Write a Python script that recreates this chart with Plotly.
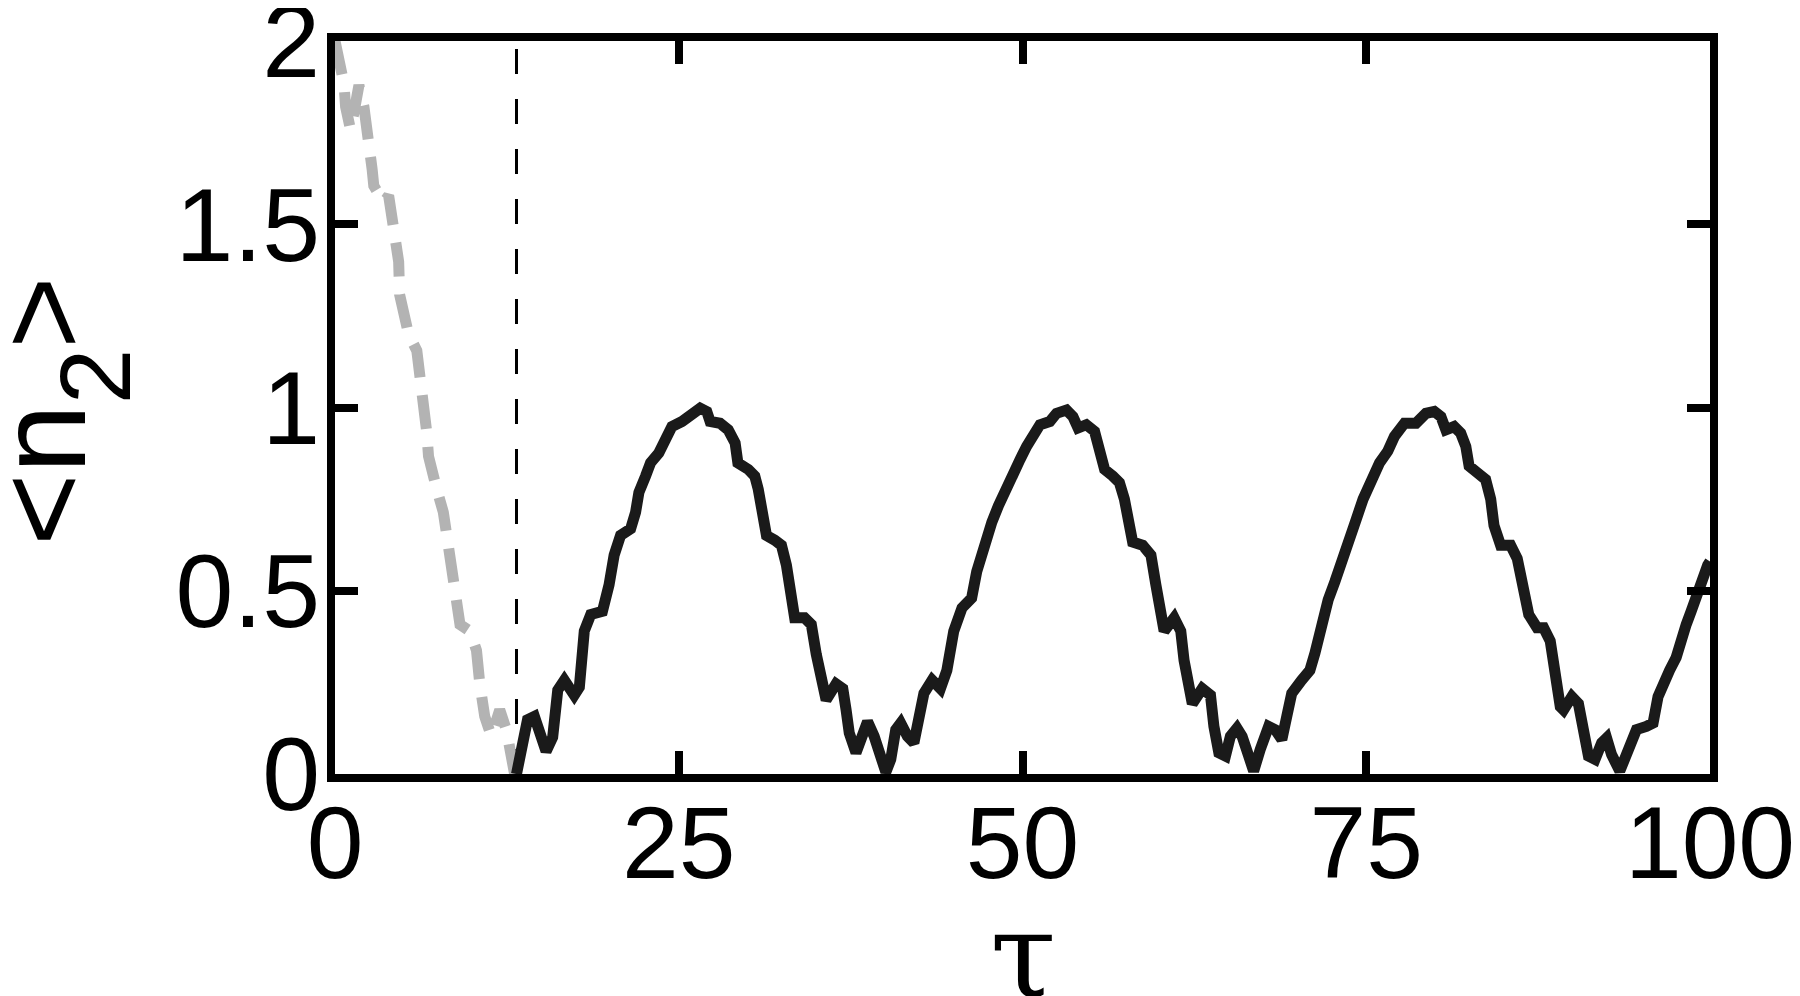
import plotly.graph_objects as go

tau_black = [13.2, 14.0, 14.5, 15.35, 15.83, 16.2, 16.68, 17.4, 17.77, 18.13, 18.6, 19.45, 19.93,
             20.3, 20.77, 21.5, 21.86, 22.1, 22.59, 22.95, 23.55, 24.03, 24.5, 25.24, 25.72, 26.2,
             26.56, 27.04, 27.28, 28.0, 28.6, 29.1, 29.3, 30.06, 30.53, 30.78, 31.14, 31.38, 31.98,
             32.47, 32.83, 33.19, 33.43, 34.15, 34.64, 35.0, 35.36, 35.72, 36.44, 36.93, 37.17,
             37.4, 37.89, 38.37, 38.73, 39.21, 39.7, 40.06, 40.42, 40.78, 41.14, 41.63, 42.1,
             42.83, 43.43, 44.03, 44.5, 45.0, 45.6, 46.3, 46.67, 47.17, 47.77, 48.25, 48.85,
             49.33, 49.82, 50.3, 50.78, 51.27, 51.99, 52.47, 53.2, 53.67, 54.04, 54.64, 55.24,
             55.6, 55.97, 56.57, 57.05, 57.41, 57.77, 58.01, 58.74, 59.34, 59.7, 59.94, 60.3,
             61.03, 61.51, 61.75, 62.11, 62.35, 63.07, 63.67, 63.92, 64.28, 64.76, 65.12, 65.6,
             65.97, 66.45, 66.81, 67.29, 67.9, 68.38, 68.86, 69.22, 69.58, 70.3, 70.9, 71.27,
             71.75, 72.23, 72.72, 73.2, 73.68, 74.28, 74.77, 75.37, 75.97, 76.57, 77.05, 77.78,
             78.62, 79.34, 79.95, 80.43, 80.79, 81.39, 81.87, 82.24, 82.48, 83.08, 83.68, 84.05,
             84.29, 84.77, 85.5, 85.98, 86.22, 86.46, 86.82, 87.42, 87.9, 88.38, 88.74, 89.11,
             89.35, 89.95, 90.43, 90.8, 91.16, 91.64, 92.12, 92.48, 92.84, 93.44, 94.05, 94.65,
             95.37, 95.86, 96.22, 96.58, 97.06, 97.54, 97.9, 98.27, 98.63, 98.99, 99.35, 99.83, 100.0]
n2_black = [0.0, 0.148, 0.157, 0.062, 0.10, 0.229, 0.256, 0.215, 0.237, 0.39, 0.435, 0.444, 0.516,
            0.597, 0.651, 0.669, 0.714, 0.768, 0.813, 0.849, 0.876, 0.921, 0.948, 0.962, 0.975, 0.984,
            0.998, 0.989, 0.962, 0.957, 0.939, 0.903, 0.849, 0.831, 0.813, 0.777, 0.714, 0.651, 0.638,
            0.624, 0.570, 0.498, 0.426, 0.426, 0.408, 0.327, 0.265, 0.202, 0.246, 0.233, 0.175,
            0.112, 0.058, 0.121, 0.143, 0.103, 0.040, 0.005, 0.040, 0.121, 0.139, 0.103, 0.085,
            0.22, 0.256, 0.233, 0.283, 0.39, 0.453, 0.48, 0.552, 0.624, 0.687, 0.732, 0.786,
            0.822, 0.858, 0.894, 0.930, 0.953, 0.962, 0.984, 0.993, 0.975, 0.944, 0.953, 0.935,
            0.885, 0.831, 0.813, 0.795, 0.75, 0.696, 0.633, 0.624, 0.597, 0.516, 0.444, 0.39,
            0.426, 0.39, 0.31, 0.246, 0.192, 0.233, 0.215, 0.13, 0.058, 0.049, 0.103, 0.125,
            0.103, 0.049, 0.008, 0.067, 0.13, 0.121, 0.094, 0.157, 0.22, 0.256, 0.283, 0.33,
            0.415, 0.475, 0.525, 0.585, 0.642, 0.696, 0.75, 0.806, 0.849, 0.881, 0.921, 0.957,
            0.957, 0.984, 0.989, 0.975, 0.939, 0.948, 0.93, 0.894, 0.84, 0.822, 0.804, 0.75,
            0.678, 0.624, 0.624, 0.588, 0.534, 0.489, 0.435, 0.399, 0.399, 0.363, 0.273, 0.184,
            0.175, 0.211, 0.192, 0.121, 0.049, 0.040, 0.085, 0.098, 0.053, 0.008, 0.067, 0.121,
            0.13, 0.139, 0.211, 0.246, 0.283, 0.318, 0.372, 0.408, 0.444, 0.489, 0.534, 0.570, 0.58]

tau_gray = [0.0, 0.41, 0.65, 0.77, 1.13, 1.37, 1.74, 2.1, 2.46, 2.7, 2.82, 3.54, 3.9, 4.27, 4.63,
            4.7, 4.99, 5.35, 5.95, 6.31, 6.44, 6.56, 6.68, 6.8, 7.04, 7.4, 7.88, 8.24, 8.48, 8.72,
            9.09, 9.81, 10.29, 10.53, 10.89, 11.37, 11.98, 12.46, 12.82, 13.06]
n2_gray = [2.0, 1.938, 1.884, 1.821, 1.758, 1.803, 1.879, 1.821, 1.74, 1.65, 1.605, 1.56, 1.578,
           1.47, 1.398, 1.308, 1.245, 1.2, 1.155, 1.065, 1.02, 1.002, 0.93, 0.867, 0.822, 0.777,
           0.714, 0.633, 0.552, 0.48, 0.408, 0.39, 0.337, 0.246, 0.157, 0.103, 0.175, 0.121,
           0.049, 0.0]

# Vertical marker
tau_mark = [13.2, 13.2]
n2_mark = [0.0, 2.0]

x_ticks = [0, 25, 50, 75, 100]
x_ticklabels = ["0", "25", "50", "75", "100"]
y_ticks = [0, 0.5, 1, 1.5, 2]
y_ticklabels = ["0", "0.5", "1", "1.5", "2"]

fig = go.Figure()
fig.add_trace(go.Scatter(x=tau_mark, y=n2_mark, mode="lines",
                         line=dict(color="black", width=3, dash="25px,25px"),
                         showlegend=False, hoverinfo="skip"))
fig.add_trace(go.Scatter(x=tau_gray, y=n2_gray, mode="lines",
                         line=dict(color="#b3b3b3", width=11, dash="34px,18px"),
                         showlegend=False))
fig.add_trace(go.Scatter(x=tau_black, y=n2_black, mode="lines",
                         line=dict(color="#1a1a1a", width=11),
                         showlegend=False))

xfont = dict(family="Liberation Sans, Arial, sans-serif", size=102, color="black")
yfont = dict(family="Liberation Sans, Arial, sans-serif", size=104, color="black")

# The page body adds an 8px offset; the figure is sized so it fits the window.
fig.update_layout(
    width=1792, height=988,
    margin=dict(l=327, r=90, t=33, b=222, autoexpand=False),
    paper_bgcolor="white", plot_bgcolor="white",
    xaxis=dict(range=[0, 100], tickvals=x_ticks, ticktext=x_ticklabels,
               showline=True, linecolor="black", linewidth=8, mirror="ticks",
               ticks="inside", ticklen=23, tickwidth=8, tickcolor="black",
               showgrid=False, zeroline=False, tickfont=xfont,
               ticklabelstandoff=-26, ticklabeloverflow="allow"),
    yaxis=dict(range=[0, 2], tickvals=y_ticks, ticktext=y_ticklabels,
               showline=True, linecolor="black", linewidth=8, mirror="ticks",
               ticks="inside", ticklen=23, tickwidth=8, tickcolor="black",
               showgrid=False, zeroline=False, tickfont=yfont,
               ticklabelstandoff=-14, ticklabeloverflow="allow"),
    annotations=[
        dict(text="τ", xref="paper", yref="paper", x=0.5, y=-0.2476,
             xanchor="center", yanchor="middle", showarrow=False,
             font=dict(family="DejaVu Serif, serif", size=120, color="black")),
        dict(text="&lt;n<sub><sub><span style=\"font-size:100px\">2</span></sub></sub>&gt;",
             xref="paper", yref="paper", x=-0.1989, y=0.495,
             xanchor="center", yanchor="middle", showarrow=False, textangle=-90,
             font=dict(family="Liberation Sans, Arial, sans-serif", size=124, color="black")),
    ],
)

fig.write_html("out.html")
